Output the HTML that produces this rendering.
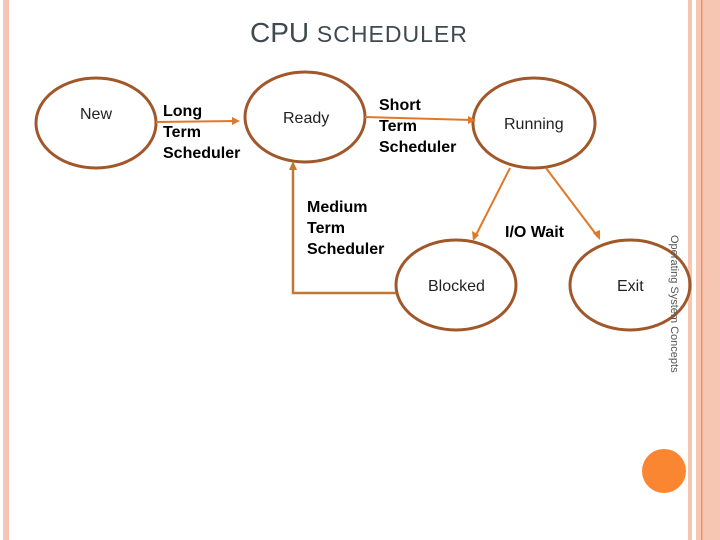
<!DOCTYPE html>
<html><head><meta charset="utf-8"><style>
html,body{margin:0;padding:0;background:#fff;}
body{width:720px;height:540px;position:relative;overflow:hidden;font-family:"Liberation Sans",sans-serif;}
.t{position:absolute;font-size:16px;line-height:21px;color:#000;font-weight:bold;}
</style></head><body>
<svg width="720" height="540" style="position:absolute;left:0;top:0">
<rect x="3" y="0" width="6" height="540" fill="#f7c6b2"/>
<rect x="688" y="0" width="4" height="540" fill="#f7c6b2"/>
<rect x="696" y="0" width="24" height="540" fill="#f7c6b2"/>
<rect x="701" y="0" width="1.5" height="540" fill="#e8946a"/>
<circle cx="664" cy="471" r="22" fill="#fb8632"/>
<g fill="none" stroke="#a0582a" stroke-width="3">
<ellipse cx="96" cy="123" rx="60" ry="45"/>
<ellipse cx="305" cy="117" rx="60" ry="45"/>
<ellipse cx="534" cy="123" rx="61" ry="45"/>
<ellipse cx="456" cy="285" rx="60" ry="45"/>
<ellipse cx="630" cy="285" rx="60" ry="45"/>
</g>
<g stroke="#e07828" stroke-width="2" fill="none">
<line x1="156" y1="122" x2="236" y2="121"/>
<line x1="365" y1="117" x2="472" y2="120"/>
<line x1="510" y1="168" x2="475" y2="237"/>
<line x1="546" y1="168" x2="598" y2="237"/>
</g>
<polyline points="396,293 293,293 293,166" fill="none" stroke="#c07838" stroke-width="2.5"/>
<g fill="#e07828">
<polygon points="240,121 232,117 232,125"/>
<polygon points="476,120 468,116 468,124"/>
<polygon points="473,241 472,231 479,235"/>
<polygon points="600,240 593,233 600,230"/>
<polygon points="293,161 289,170 297,170" fill="#c07838"/>
</g>
<text x="250" y="42" font-family="Liberation Sans" font-size="28" fill="#3f4a50">CPU <tspan font-size="23" textLength="150">SCHEDULER</tspan></text>
<g font-size="16" font-family="Liberation Sans" fill="#222">
<text x="80" y="119">New</text>
<text x="283" y="123">Ready</text>
<text x="504" y="129">Running</text>
<text x="428" y="291">Blocked</text>
<text x="617" y="291">Exit</text>
</g>
<text x="505" y="237" font-size="16" font-weight="bold" font-family="Liberation Sans">I/O Wait</text>
<text transform="translate(671,235) rotate(90)" font-size="11" fill="#555" font-family="Liberation Sans">Operating System Concepts</text>
</svg>
<div class="t" style="left:163px;top:101px">Long<br>Term<br>Scheduler</div>
<div class="t" style="left:379px;top:95px">Short<br>Term<br>Scheduler</div>
<div class="t" style="left:307px;top:197px">Medium<br>Term<br>Scheduler</div>
</body></html>
